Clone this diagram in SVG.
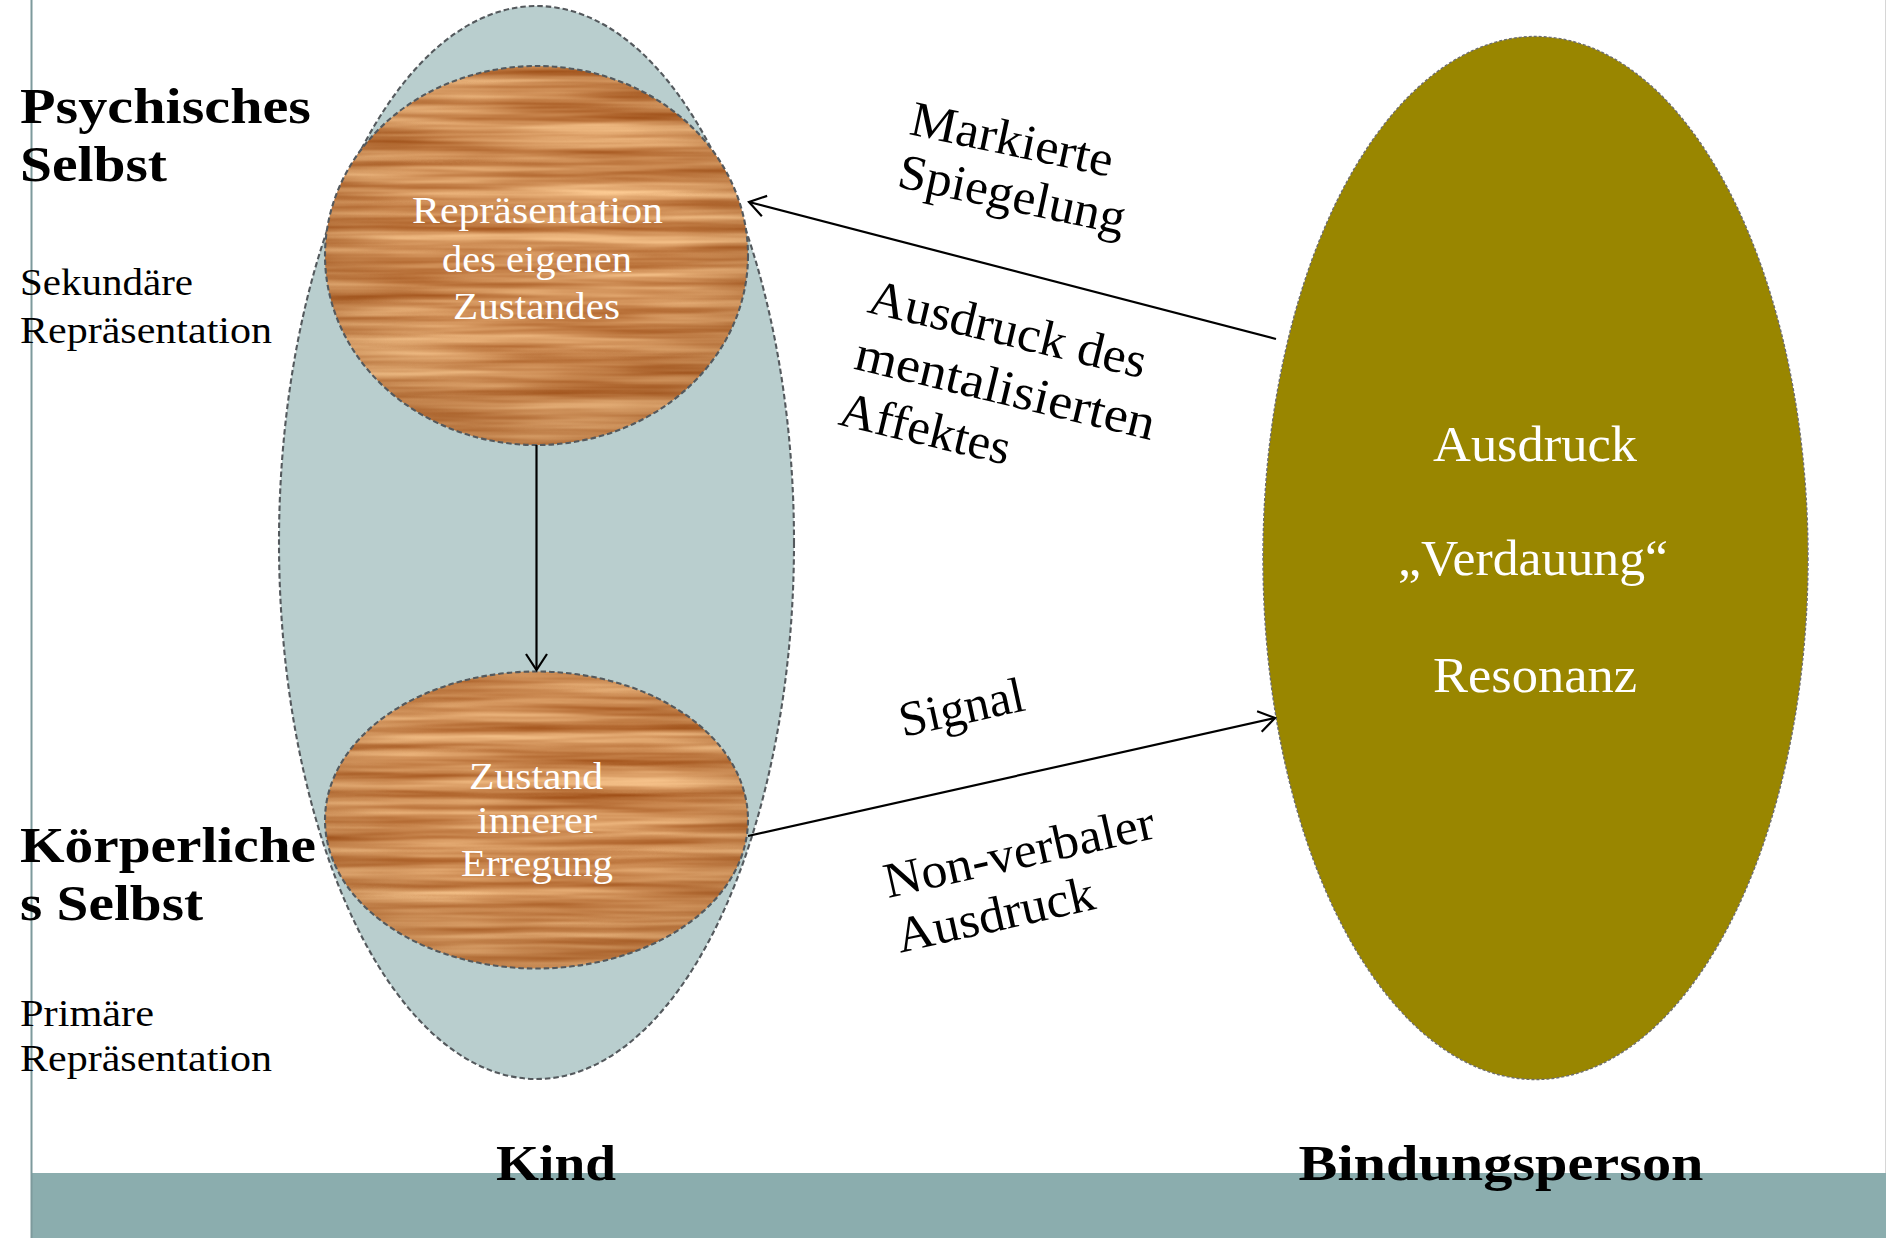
<svg xmlns="http://www.w3.org/2000/svg" width="1886" height="1238" viewBox="0 0 1886 1238">
  <style>
    .bold { font-family: "Liberation Serif", "DejaVu Serif", serif; font-weight: bold; font-size: 50px; fill: #000; }
    .small { font-family: "Liberation Serif", "DejaVu Serif", serif; font-size: 37px; fill: #000; }
    .label { font-family: "Liberation Serif", "DejaVu Serif", serif; font-size: 50px; fill: #000; }
    .white37 { font-family: "Liberation Serif", "DejaVu Serif", serif; font-size: 37px; fill: #fff; text-anchor: middle; }
    .white50 { font-family: "Liberation Serif", "DejaVu Serif", serif; font-size: 50px; fill: #fff; text-anchor: middle; }
    .dash { fill: none; stroke: #54595d; stroke-width: 2.1; stroke-dasharray: 5.5 3; }
    .conn { fill: none; stroke: #000; stroke-width: 2.2; marker-end: url(#arr); }
  </style>
  <defs>
    <marker id="arr" markerUnits="userSpaceOnUse" markerWidth="26" markerHeight="28" viewBox="-20 -14 24 28" refX="0" refY="0" orient="auto">
      <path d="M-16,-10.5 L0,0 L-16,10.5" fill="none" stroke="#000" stroke-width="2.2"/>
    </marker>
    <filter id="wood" x="0" y="0" width="1" height="1" color-interpolation-filters="sRGB">
      <feTurbulence type="fractalNoise" baseFrequency="0.004 0.09" numOctaves="3" seed="11" result="n"/>
      <feColorMatrix in="n" type="matrix" values="0.45 0 0 0 0.58  0.6 0 0 0 0.25  0.6 0 0 0 0.03  0 0 0 0 1" result="c"/>
      <feComposite in="c" in2="SourceGraphic" operator="in"/>
    </filter>
    <radialGradient id="shade" cx="0.5" cy="0.42" r="0.6">
      <stop offset="0.55" stop-color="#7a3e10" stop-opacity="0"/>
      <stop offset="1" stop-color="#7a3e10" stop-opacity="0.2"/>
    </radialGradient>
  </defs>

  <rect x="0" y="0" width="1886" height="1238" fill="#fff"/>

  <g id="frame">
    <rect x="31" y="1173" width="1855" height="65" fill="#8badae"/>
    <line x1="31.5" y1="0" x2="31.5" y2="1238" stroke="#7d9a9c" stroke-width="2"/>
    <line x1="1885.5" y1="0" x2="1885.5" y2="1173" stroke="#d6d6d6" stroke-width="1"/>
  </g>

  <g id="kind">
    <ellipse cx="536.5" cy="542.5" rx="257.5" ry="536.5" fill="#b9cece"/>
    <ellipse class="dash" cx="536.5" cy="542.5" rx="257.5" ry="536.5"/>
  </g>

  <g id="psychisch-repraesentation">
    <ellipse cx="536.5" cy="255.5" rx="211.5" ry="189.5" fill="#c8915e" filter="url(#wood)"/>
    <ellipse cx="536.5" cy="255.5" rx="211.5" ry="189.5" fill="url(#shade)"/>
    <ellipse class="dash" cx="536.5" cy="255.5" rx="211.5" ry="189.5"/>
    <text class="white37" x="537.5" y="223" textLength="251" lengthAdjust="spacingAndGlyphs">Repräsentation</text>
    <text class="white37" x="537" y="272" textLength="190" lengthAdjust="spacingAndGlyphs">des eigenen</text>
    <text class="white37" x="536.5" y="319" textLength="167" lengthAdjust="spacingAndGlyphs">Zustandes</text>
  </g>

  <g id="koerper-zustand">
    <ellipse cx="536.5" cy="820" rx="211.5" ry="148.5" fill="#c8915e" filter="url(#wood)"/>
    <ellipse cx="536.5" cy="820" rx="211.5" ry="148.5" fill="url(#shade)"/>
    <ellipse class="dash" cx="536.5" cy="820" rx="211.5" ry="148.5"/>
    <text class="white37" x="536" y="789" textLength="134" lengthAdjust="spacingAndGlyphs">Zustand</text>
    <text class="white37" x="537" y="833" textLength="120" lengthAdjust="spacingAndGlyphs">innerer</text>
    <text class="white37" x="537" y="876" textLength="152" lengthAdjust="spacingAndGlyphs">Erregung</text>
  </g>

  <g id="bindungsperson">
    <ellipse cx="1535.5" cy="558" rx="272.5" ry="521.5" fill="#998600" stroke="#6e6e6e" stroke-width="1.4" stroke-dasharray="3 2"/>
    <text class="white50" x="1535" y="461" textLength="204" lengthAdjust="spacingAndGlyphs">Ausdruck</text>
    <text class="white50" x="1533" y="575" textLength="270" lengthAdjust="spacingAndGlyphs">„Verdauung“</text>
    <text class="white50" x="1535" y="692" textLength="204" lengthAdjust="spacingAndGlyphs">Resonanz</text>
  </g>

  <g id="connectors">
    <line class="conn" x1="1276" y1="339" x2="749" y2="202"/>
    <line class="conn" x1="536.5" y1="445" x2="536.5" y2="670"/>
    <line class="conn" x1="748" y1="836" x2="1275" y2="718"/>
  </g>

  <g id="edge-labels">
    <g transform="translate(908,134) rotate(12)">
      <text class="label" x="0" y="0" textLength="206" lengthAdjust="spacingAndGlyphs">Markierte</text>
      <text class="label" x="-1" y="54" textLength="231" lengthAdjust="spacingAndGlyphs">Spiegelung</text>
    </g>
    <g transform="translate(866,312) rotate(13.5)">
      <text class="label" x="0" y="0" textLength="284" lengthAdjust="spacingAndGlyphs">Ausdruck des</text>
      <text class="label" x="0" y="58" textLength="307" lengthAdjust="spacingAndGlyphs">mentalisierten</text>
      <text class="label" x="-2" y="116" textLength="174" lengthAdjust="spacingAndGlyphs">Affektes</text>
    </g>
    <g transform="translate(903,737) rotate(-12.3)">
      <text class="label" x="0" y="0" textLength="127" lengthAdjust="spacingAndGlyphs">Signal</text>
    </g>
    <g transform="translate(888,898) rotate(-12.6)">
      <text class="label" x="0" y="0" textLength="276" lengthAdjust="spacingAndGlyphs">Non-verbaler</text>
      <text class="label" x="0" y="56" textLength="202" lengthAdjust="spacingAndGlyphs">Ausdruck</text>
    </g>
  </g>

  <g id="side-labels">
    <text class="bold" x="20" y="123" textLength="291" lengthAdjust="spacingAndGlyphs">Psychisches</text>
    <text class="bold" x="20" y="181" textLength="147" lengthAdjust="spacingAndGlyphs">Selbst</text>
    <text class="small" x="20" y="295" textLength="173" lengthAdjust="spacingAndGlyphs">Sekundäre</text>
    <text class="small" x="20" y="343" textLength="252" lengthAdjust="spacingAndGlyphs">Repräsentation</text>
    <text class="bold" x="20" y="862" textLength="296" lengthAdjust="spacingAndGlyphs">Körperliche</text>
    <text class="bold" x="20" y="920" textLength="183" lengthAdjust="spacingAndGlyphs">s Selbst</text>
    <text class="small" x="20" y="1026" textLength="134" lengthAdjust="spacingAndGlyphs">Primäre</text>
    <text class="small" x="20" y="1071" textLength="252" lengthAdjust="spacingAndGlyphs">Repräsentation</text>
  </g>

  <g id="column-labels">
    <text class="bold" x="556" y="1180" text-anchor="middle" textLength="120" lengthAdjust="spacingAndGlyphs">Kind</text>
    <text class="bold" x="1501" y="1180" text-anchor="middle" textLength="405" lengthAdjust="spacingAndGlyphs">Bindungsperson</text>
  </g>
</svg>
